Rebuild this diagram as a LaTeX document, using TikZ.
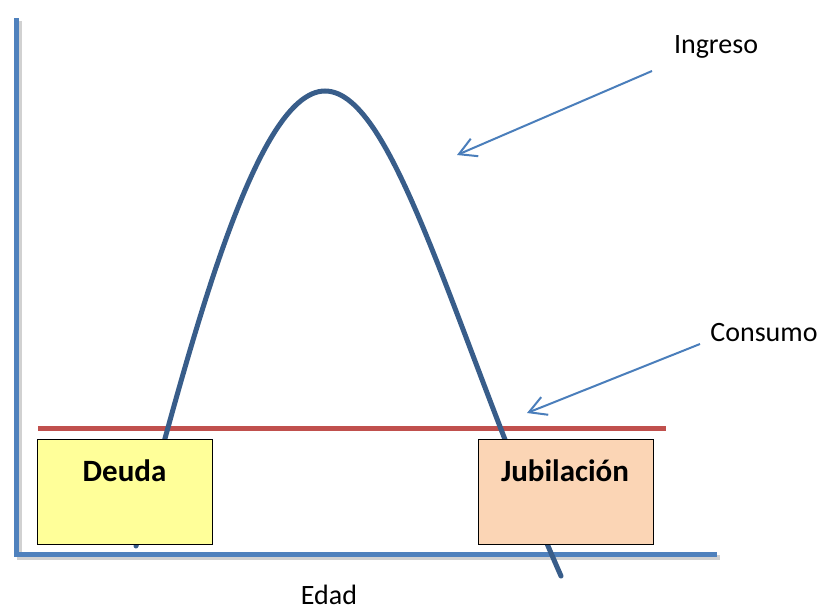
\documentclass[tikz,border=0pt]{standalone}
\usepackage{fontspec}
\setmainfont{Carlito}
\usetikzlibrary{arrows.meta}
\definecolor{axisblue}{HTML}{4F81BD}
\definecolor{curveblue}{HTML}{385D8A}
\definecolor{consred}{HTML}{C0504D}
\definecolor{arrowblue}{HTML}{4A7EBB}
\definecolor{debtyellow}{HTML}{FFFF99}
\definecolor{retpeach}{HTML}{FBD5B5}
\tikzset{
  axisline/.style={draw=axisblue, line width=5pt},
  axisshadow/.style={draw=black, opacity=0.18, line width=5pt},
  incomecurve/.style={draw=curveblue, line width=5pt, line cap=round},
  consline/.style={draw=consred, line width=5pt},
  phasebox/.style={draw=black, line width=1pt, minimum width=175pt, minimum height=105pt, inner sep=0pt},
  boxtext/.style={font=\fontsize{31}{36}\selectfont\bfseries, inner sep=0pt},
  plaintext/.style={font=\fontsize{28}{34}\selectfont, inner sep=0pt},
  pointer/.style={draw=arrowblue, line width=2pt, -{Straight Barb[length=17pt, width=19pt, line width=2pt]}}
}
\begin{document}
\begin{tikzpicture}[x=1pt, y=-1pt]
\useasboundingbox (0,0) rectangle (825,608);
% axes
\coordinate (ytop) at (16.5,18);
\coordinate (orig) at (16.5,554);
\coordinate (xend) at (717,554);
\draw[axisshadow] ([shift={(2.5,3)}]ytop) -- ([shift={(2.5,3)}]orig) -- ([shift={(2.5,3)}]xend);
\draw[axisline] (ytop) -- (orig) -- (xend);
% consumption line
\coordinate (c1) at (38,428);
\coordinate (c2) at (666,428);
\draw[consline] (c1) -- (c2);
% income curve
\coordinate (ia) at (136,546);
\coordinate (ipeak) at (325,91);
\coordinate (ib) at (561,576);
\draw[incomecurve] (ia) .. controls (190,345) and (255,91) .. (ipeak)
  .. controls (395,91) and (455,335) .. (ib);
% boxes
\node[phasebox, fill=debtyellow] (deuda) at (124.5,491.5) {};
\node[boxtext] (deudatxt) at (124.5,471) {Deuda};
\node[phasebox, fill=retpeach] (jubil) at (565.5,491.5) {};
\node[boxtext] (jubiltxt) at (565,471) {Jubilación};
% labels
\node[plaintext] (ingreso) at (716,47) {Ingreso};
\node[plaintext] (consumo) at (764,333) {Consumo};
\node[plaintext, text depth=0pt, anchor=base] (edad) at (329,604) {Edad};
% pointers
\coordinate (ing0) at (652,71);
\coordinate (ing1) at (457,155);
\coordinate (con0) at (700,344);
\coordinate (con1) at (527,413);
\draw[pointer] (ing0) -- (ing1);
\draw[pointer] (con0) -- (con1);
\end{tikzpicture}
\end{document}
